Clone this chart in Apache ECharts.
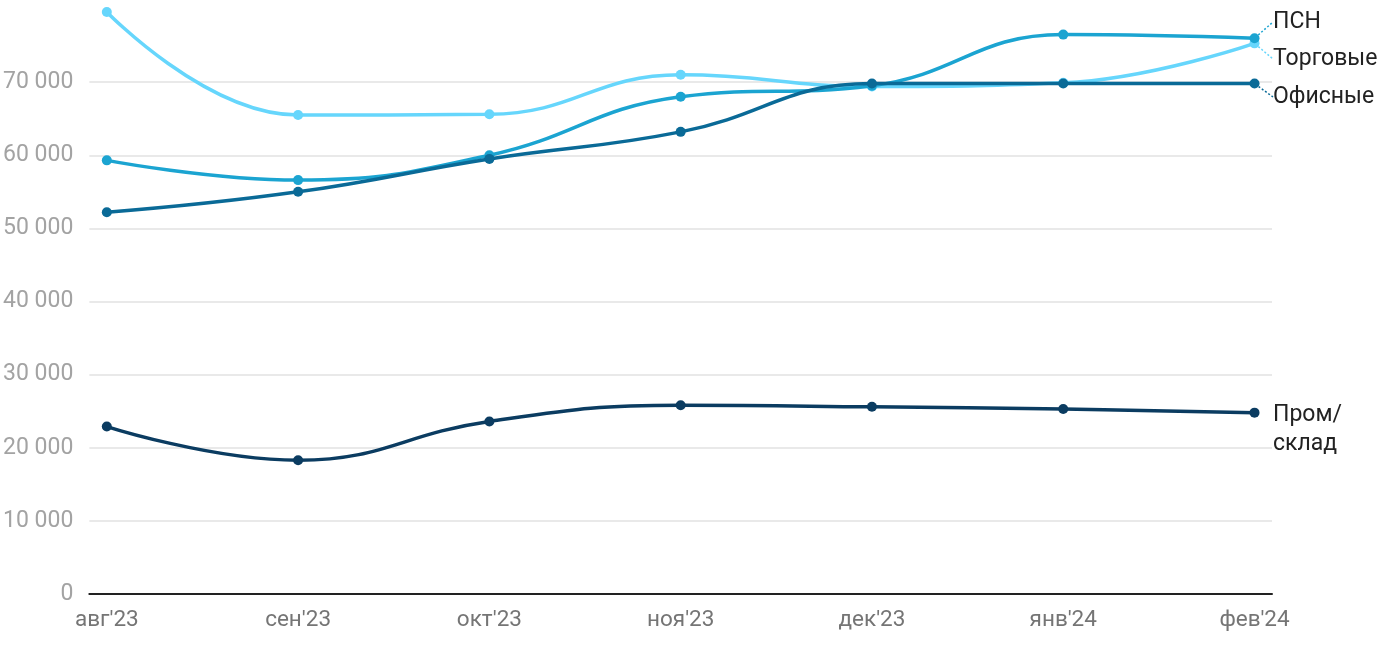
<!DOCTYPE html>
<html>
<head>
<meta charset="utf-8">
<script src="https://cdn.jsdelivr.net/npm/echarts@6/dist/echarts.min.js"></script>
<style>html,body{margin:0;padding:0;background:#fff}#c{width:1400px;height:650px}</style>
</head>
<body>
<div id="c"></div>
<script>
const categories = ["авг'23","сен'23","окт'23","ноя'23","дек'23","янв'24","фев'24"];
const torgovye = [79600, 65500, 65600, 71000, 69400, 69900, 75300];
const psn      = [59300, 56600, 60000, 68000, 69500, 76500, 76000];
const ofisnye  = [52200, 55000, 59500, 63200, 69800, 69800, 69800];
const promSklad= [22900, 18300, 23600, 25800, 25600, 25300, 24800];
const yTicks = [0, 10000, 20000, 30000, 40000, 50000, 60000, 70000];

const chart = echarts.init(document.getElementById('c'), null, {renderer:'canvas'});
function fmt(v){ return String(v).replace(/\B(?=(\d{3})+(?!\d))/g, ' '); }
function toPts(arr){ return arr.map((v,i)=>[i,v]); }

function mk(name, label, data, color, labelY, z, lead){
  const last = data.length-1;
  return {
    name: name, type:'line', smooth: 0.45,
    symbol:'circle', symbolSize: 10, z: z,
    lineStyle:{color: color, width: 3.5},
    itemStyle:{color: color},
    data: toPts(data).map((p,i)=> i===last ? {value:p, label:{show:true, position:'right', formatter: label,
      color:'#222', fontSize:23, fontFamily:'Roboto', lineHeight:29},
      labelLine:{show: lead, length2:0, lineStyle:{color: color, width:1.5, type:[2,2]}}} : p),
    labelLayout: function(){ return {x: 1273, y: labelY, align:'left', verticalAlign:'middle'}; }
  };
}
const seriesDefs = [
  mk('Торговые','Торговые', torgovye, '#66d6fc', 59, 2, true),
  mk('ПСН','ПСН', psn, '#1ba4d1', 22, 3, true),
  mk('Офисные','Офисные', ofisnye, '#0a6a97', 97, 4, true),
  mk('Пром/склад','Пром/\nсклад', promSklad, '#0b3c61', 430, 5, false)
];

chart.setOption({
  animation:false,
  backgroundColor:'#fff',
  grid:{left:88, right:128, top:9, bottom:56, containLabel:false},
  xAxis:{
    type:'value', min:-0.0914, max:6.0914,
    axisLine:{show:true, onZero:false, lineStyle:{color:'#222', width:2}},
    axisTick:{show:false},
    splitLine:{show:false},
    axisLabel:{customValues:[0,1,2,3,4,5,6], formatter:v=>categories[Math.round(v)],
      color:'#757575', fontSize:22.5, fontFamily:'Roboto', margin:15}
  },
  yAxis:{
    type:'value', min:0, max:80000, interval:10000,
    axisLine:{show:false}, axisTick:{show:false},
    splitLine:{show:true, showMaxLine:false, lineStyle:{color:'#e2e2e2', width:1.5}},
    axisLabel:{color:'#a3a3a3', fontSize:23, fontFamily:'Roboto', margin:16, showMaxLabel:false,
      formatter:v=> yTicks.indexOf(v)>=0 ? fmt(v) : ''}
  },
  series: seriesDefs
});
</script>
</body>
</html>
